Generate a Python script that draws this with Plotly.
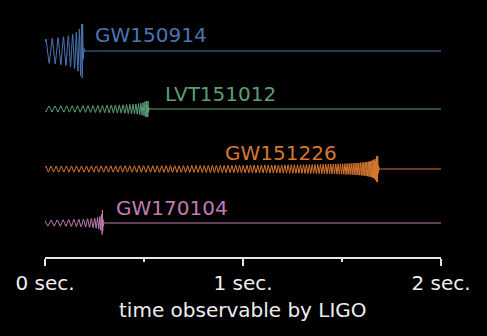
import numpy as np
import plotly.graph_objects as go

# ---- data ----
events = ["GW150914", "LVT151012", "GW151226", "GW170104"]
merger_time = [0.19, 0.52, 1.68, 0.29]      # seconds of observable signal
start_freq = [30, 32, 38, 30]               # Hz at t = 0
start_amp = [12, 3, 3, 3]                   # amplitude at t = 0 (px units)
peak_amp = [27, 8, 13, 13]                  # amplitude at merger
tick_vals = [0, 1, 2]
tick_text = ["0 sec.", "1 sec.", "2 sec."]

# ---- style / layout ----
colors = ["#4a75b2", "#5a9f76", "#d7782f", "#c07db0"]
offsets = [206, 148, 88, 34]
label_pos = [(0.2425, 222), (0.596, 163), (0.899, 104), (0.3486, 49.5)]

fig = go.Figure()
t = np.linspace(0, 2, 24001)
for name, tc, f0, a0, ap, c, off in zip(events, merger_time, start_freq,
                                         start_amp, peak_amp, colors, offsets):
    tau = np.clip(tc - t, 0, None)
    phase = -2 * np.pi * f0 * tc ** 0.375 * tau ** 0.625 / 0.625
    tau_min = tc * (ap / a0) ** -4
    amp = a0 * (np.maximum(tau, tau_min) / tc) ** -0.25
    after = t > tc
    ring = ap * np.exp(-(t - tc) / 0.003)
    f_end = f0 * (tau_min / tc) ** -0.375
    y = np.where(after, ring * np.cos(2 * np.pi * f_end * 1.3 * (t - tc)),
                 amp * np.cos(phase))
    fig.add_trace(go.Scatter(x=t, y=y + off, mode="lines",
                             line=dict(color=c, width=1),
                             hoverinfo="skip", showlegend=False))

for name, (lx, ly), c in zip(events, label_pos, colors):
    fig.add_annotation(x=lx, y=ly, xref="x", yref="y", text=name,
                       showarrow=False, xanchor="left", yanchor="middle",
                       font=dict(family="DejaVu Sans", size=20, color=c))

fig.add_annotation(x=0.5, y=-0.206, xref="paper", yref="paper",
                   text="time observable by LIGO", showarrow=False,
                   xanchor="center", yanchor="middle",
                   font=dict(family="DejaVu Sans", size=20, color="#eeeeee"))

fig.update_layout(
    width=487, height=336,
    margin=dict(l=45, r=46, t=0, b=79),
    paper_bgcolor="black", plot_bgcolor="black",
    xaxis=dict(range=[0, 2], showgrid=False, zeroline=False,
               showline=True, linecolor="#e6e6e6", linewidth=1.5,
               ticks="outside", ticklen=7, tickwidth=1.5, tickcolor="#e6e6e6",
               tickvals=tick_vals, ticktext=tick_text,
               tickfont=dict(family="DejaVu Sans", size=20, color="#eeeeee"),
               minor=dict(tickvals=[0.5, 1.5], ticks="outside", ticklen=3.5,
                          tickwidth=1.5, tickcolor="#e6e6e6")),
    yaxis=dict(range=[0, 257], visible=False),
)
fig.write_html("out.html")
